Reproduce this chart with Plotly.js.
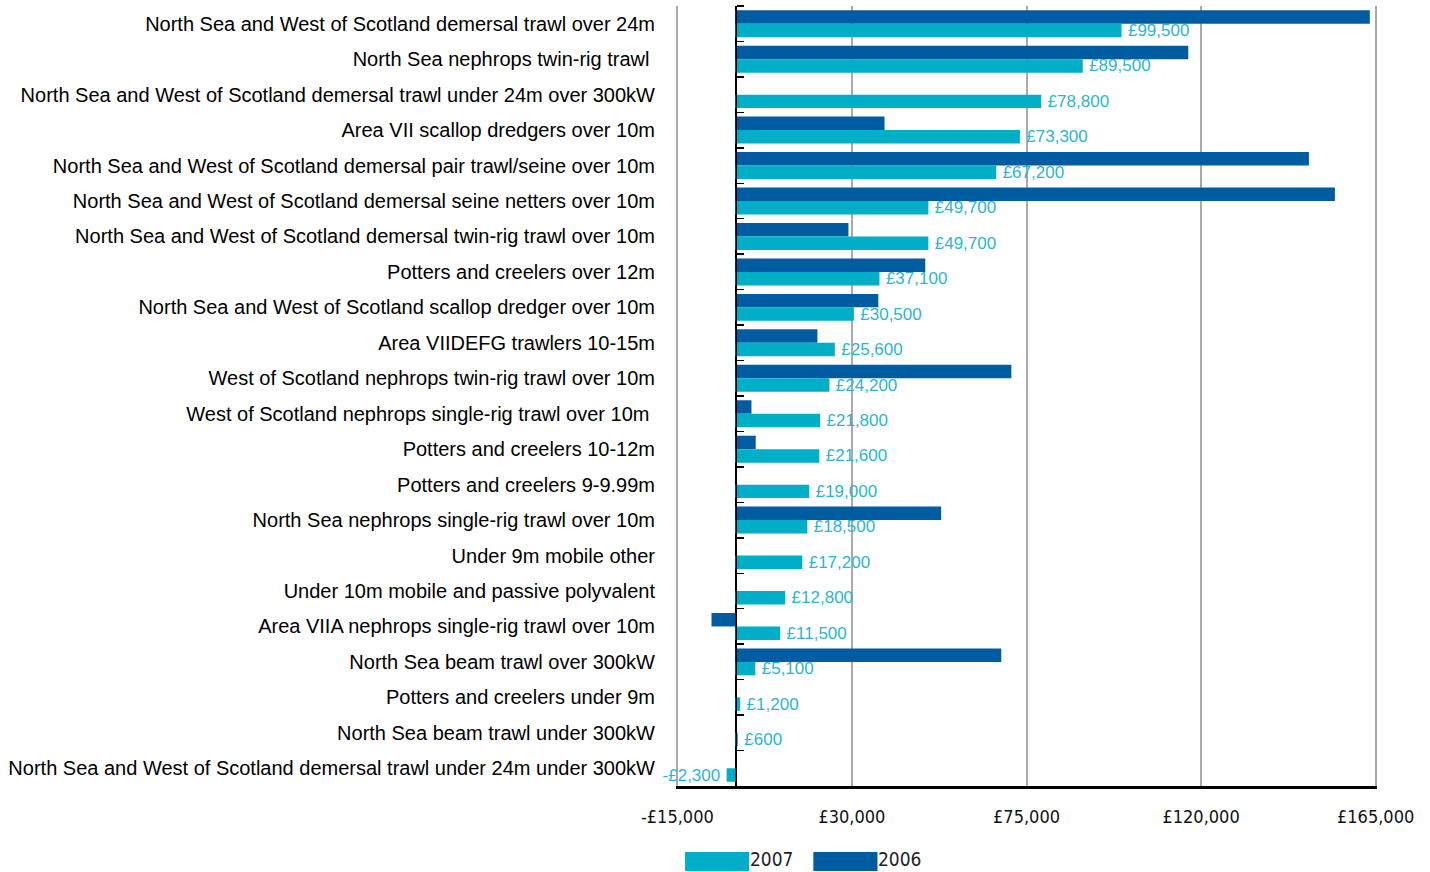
<!DOCTYPE html>
<html>
<head>
<meta charset="utf-8">
<script src="https://cdn.plot.ly/plotly-3.0.1.min.js"></script>
<style>html,body{margin:0;padding:0;background:#fff;}#chart{width:1430px;height:872px;}</style>
</head>
<body>
<div id="chart"></div>
<script>
const categories = [
  "North Sea and West of Scotland demersal trawl over 24m",
  "North Sea nephrops twin-rig trawl\u00a0",
  "North Sea and West of Scotland demersal trawl under 24m over 300kW",
  "Area VII scallop dredgers over 10m",
  "North Sea and West of Scotland demersal pair trawl/seine over 10m",
  "North Sea and West of Scotland demersal seine netters over 10m",
  "North Sea and West of Scotland demersal twin-rig trawl over 10m",
  "Potters and creelers over 12m",
  "North Sea and West of Scotland scallop dredger over 10m",
  "Area VIIDEFG trawlers 10-15m",
  "West of Scotland nephrops twin-rig trawl over 10m",
  "West of Scotland nephrops single-rig trawl over 10m\u00a0",
  "Potters and creelers 10-12m",
  "Potters and creelers 9-9.99m",
  "North Sea nephrops single-rig trawl over 10m",
  "Under 9m mobile other",
  "Under 10m mobile and passive polyvalent",
  "Area VIIA nephrops single-rig trawl over 10m",
  "North Sea beam trawl over 300kW",
  "Potters and creelers under 9m",
  "North Sea beam trawl under 300kW",
  "North Sea and West of Scotland demersal trawl under 24m under 300kW"
];
const values2007 = [99500, 89500, 78800, 73300, 67200, 49700, 49700, 37100, 30500, 25600, 24200, 21800, 21600, 19000, 18500, 17200, 12800, 11500, 5100, 1200, 600, -2300];
const values2006 = [163500, 116700, null, 38400, 147800, 154500, 29100, 48900, 36800, 21100, 71100, 4100, 5200, null, 53000, null, null, -6200, 68500, null, null, null];
const tickValues = [-15000, 30000, 75000, 120000, 165000];
const tickLabels = ["-£15,000", "£30,000", "£75,000", "£120,000", "£165,000"];
const seriesNames = ["2007", "2006"];

const colorDark = "#005ca0";
const colorCyan = "#00aec8";

function fmt(v) {
  const s = "£" + Math.abs(v).toLocaleString("en-GB");
  return v < 0 ? "-" + s : s;
}

const traces = [
  {
    type: "bar", orientation: "h", name: seriesNames[1],
    y: categories, x: values2006,
    marker: {color: colorDark},
    hoverinfo: "x+y"
  },
  {
    type: "bar", orientation: "h", name: seriesNames[0],
    y: categories, x: values2007,
    marker: {color: colorCyan},
    text: values2007.map(fmt).map(t => "\u2009" + t + "\u2009"),
    textposition: "outside",
    constraintext: "none",
    cliponaxis: false,
    textfont: {family: "Liberation Sans, Arial, sans-serif", size: 17, color: "#2db5d0"},
    hoverinfo: "x+y"
  },
  {
    type: "scatter", mode: "none", yaxis: "y2",
    y: categories, x: categories.map(() => 0),
    hoverinfo: "skip", showlegend: false
  }
];

const xMin = tickValues[0], xMax = tickValues[tickValues.length - 1];
const pad = 350;
const zeroPos = (0 - (xMin - pad)) / ((xMax + pad) - (xMin - pad));
const yRange = [categories.length - 0.5, -0.5];

const legendFont = {family: "DejaVu Sans Condensed, Liberation Sans Narrow, sans-serif", size: 19, color: "#222"};

const layout = {
  width: 1430, height: 872,
  margin: {l: 676, r: 53, t: 6, b: 86},
  paper_bgcolor: "#fff", plot_bgcolor: "#fff",
  showlegend: false,
  barmode: "group", bargap: 0.24, bargroupgap: 0,
  font: {family: "Liberation Sans, Arial, sans-serif", color: "#000"},
  xaxis: {
    range: [xMin - pad, xMax + pad],
    tickvals: tickValues, ticktext: tickLabels,
    tickfont: {family: "DejaVu Sans Condensed, Liberation Sans Narrow, sans-serif", size: 18, color: "#111"},
    showgrid: true, gridcolor: "#aaaaaa", gridwidth: 2,
    zeroline: true, zerolinecolor: "#000", zerolinewidth: 1.5,
    showline: true, linecolor: "#000", linewidth: 2.5,
    ticks: "", ticklabelstandoff: 13,
    domain: [0, 1], fixedrange: true
  },
  yaxis: {
    type: "category", range: yRange, autorange: false,
    categoryorder: "array", categoryarray: categories,
    tickfont: {family: "Liberation Sans, Arial, sans-serif", size: 20, color: "#000"},
    ticks: "", showgrid: false, showline: false, zeroline: false,
    ticklabelstandoff: 20, fixedrange: true
  },
  yaxis2: {
    type: "category", overlaying: "y", range: yRange, autorange: false,
    categoryorder: "array", categoryarray: categories,
    anchor: "free", position: zeroPos, side: "right",
    showticklabels: false, ticks: "outside", tickson: "boundaries",
    ticklen: 7, tickwidth: 1.5, tickcolor: "#000",
    showline: true, linecolor: "#000", linewidth: 1.5,
    showgrid: false, zeroline: false, fixedrange: true
  },
  shapes: [
    {type: "rect", xref: "paper", yref: "paper", x0: 0.0129, x1: 0.1044, y0: -0.0846, y1: -0.1090, fillcolor: colorCyan, line: {width: 0}},
    {type: "rect", xref: "paper", yref: "paper", x0: 0.1959, x1: 0.2874, y0: -0.0846, y1: -0.1090, fillcolor: colorDark, line: {width: 0}}
  ],
  annotations: [
    {xref: "paper", yref: "paper", x: 0.1044, y: -0.0940, xanchor: "left", yanchor: "middle", showarrow: false,
     borderpad: 0, text: seriesNames[0], font: legendFont},
    {xref: "paper", yref: "paper", x: 0.2874, y: -0.0940, xanchor: "left", yanchor: "middle", showarrow: false,
     borderpad: 0, text: seriesNames[1], font: legendFont}
  ]
};

Plotly.newPlot("chart", traces, layout, {displayModeBar: false, staticPlot: true});
</script>
</body>
</html>
